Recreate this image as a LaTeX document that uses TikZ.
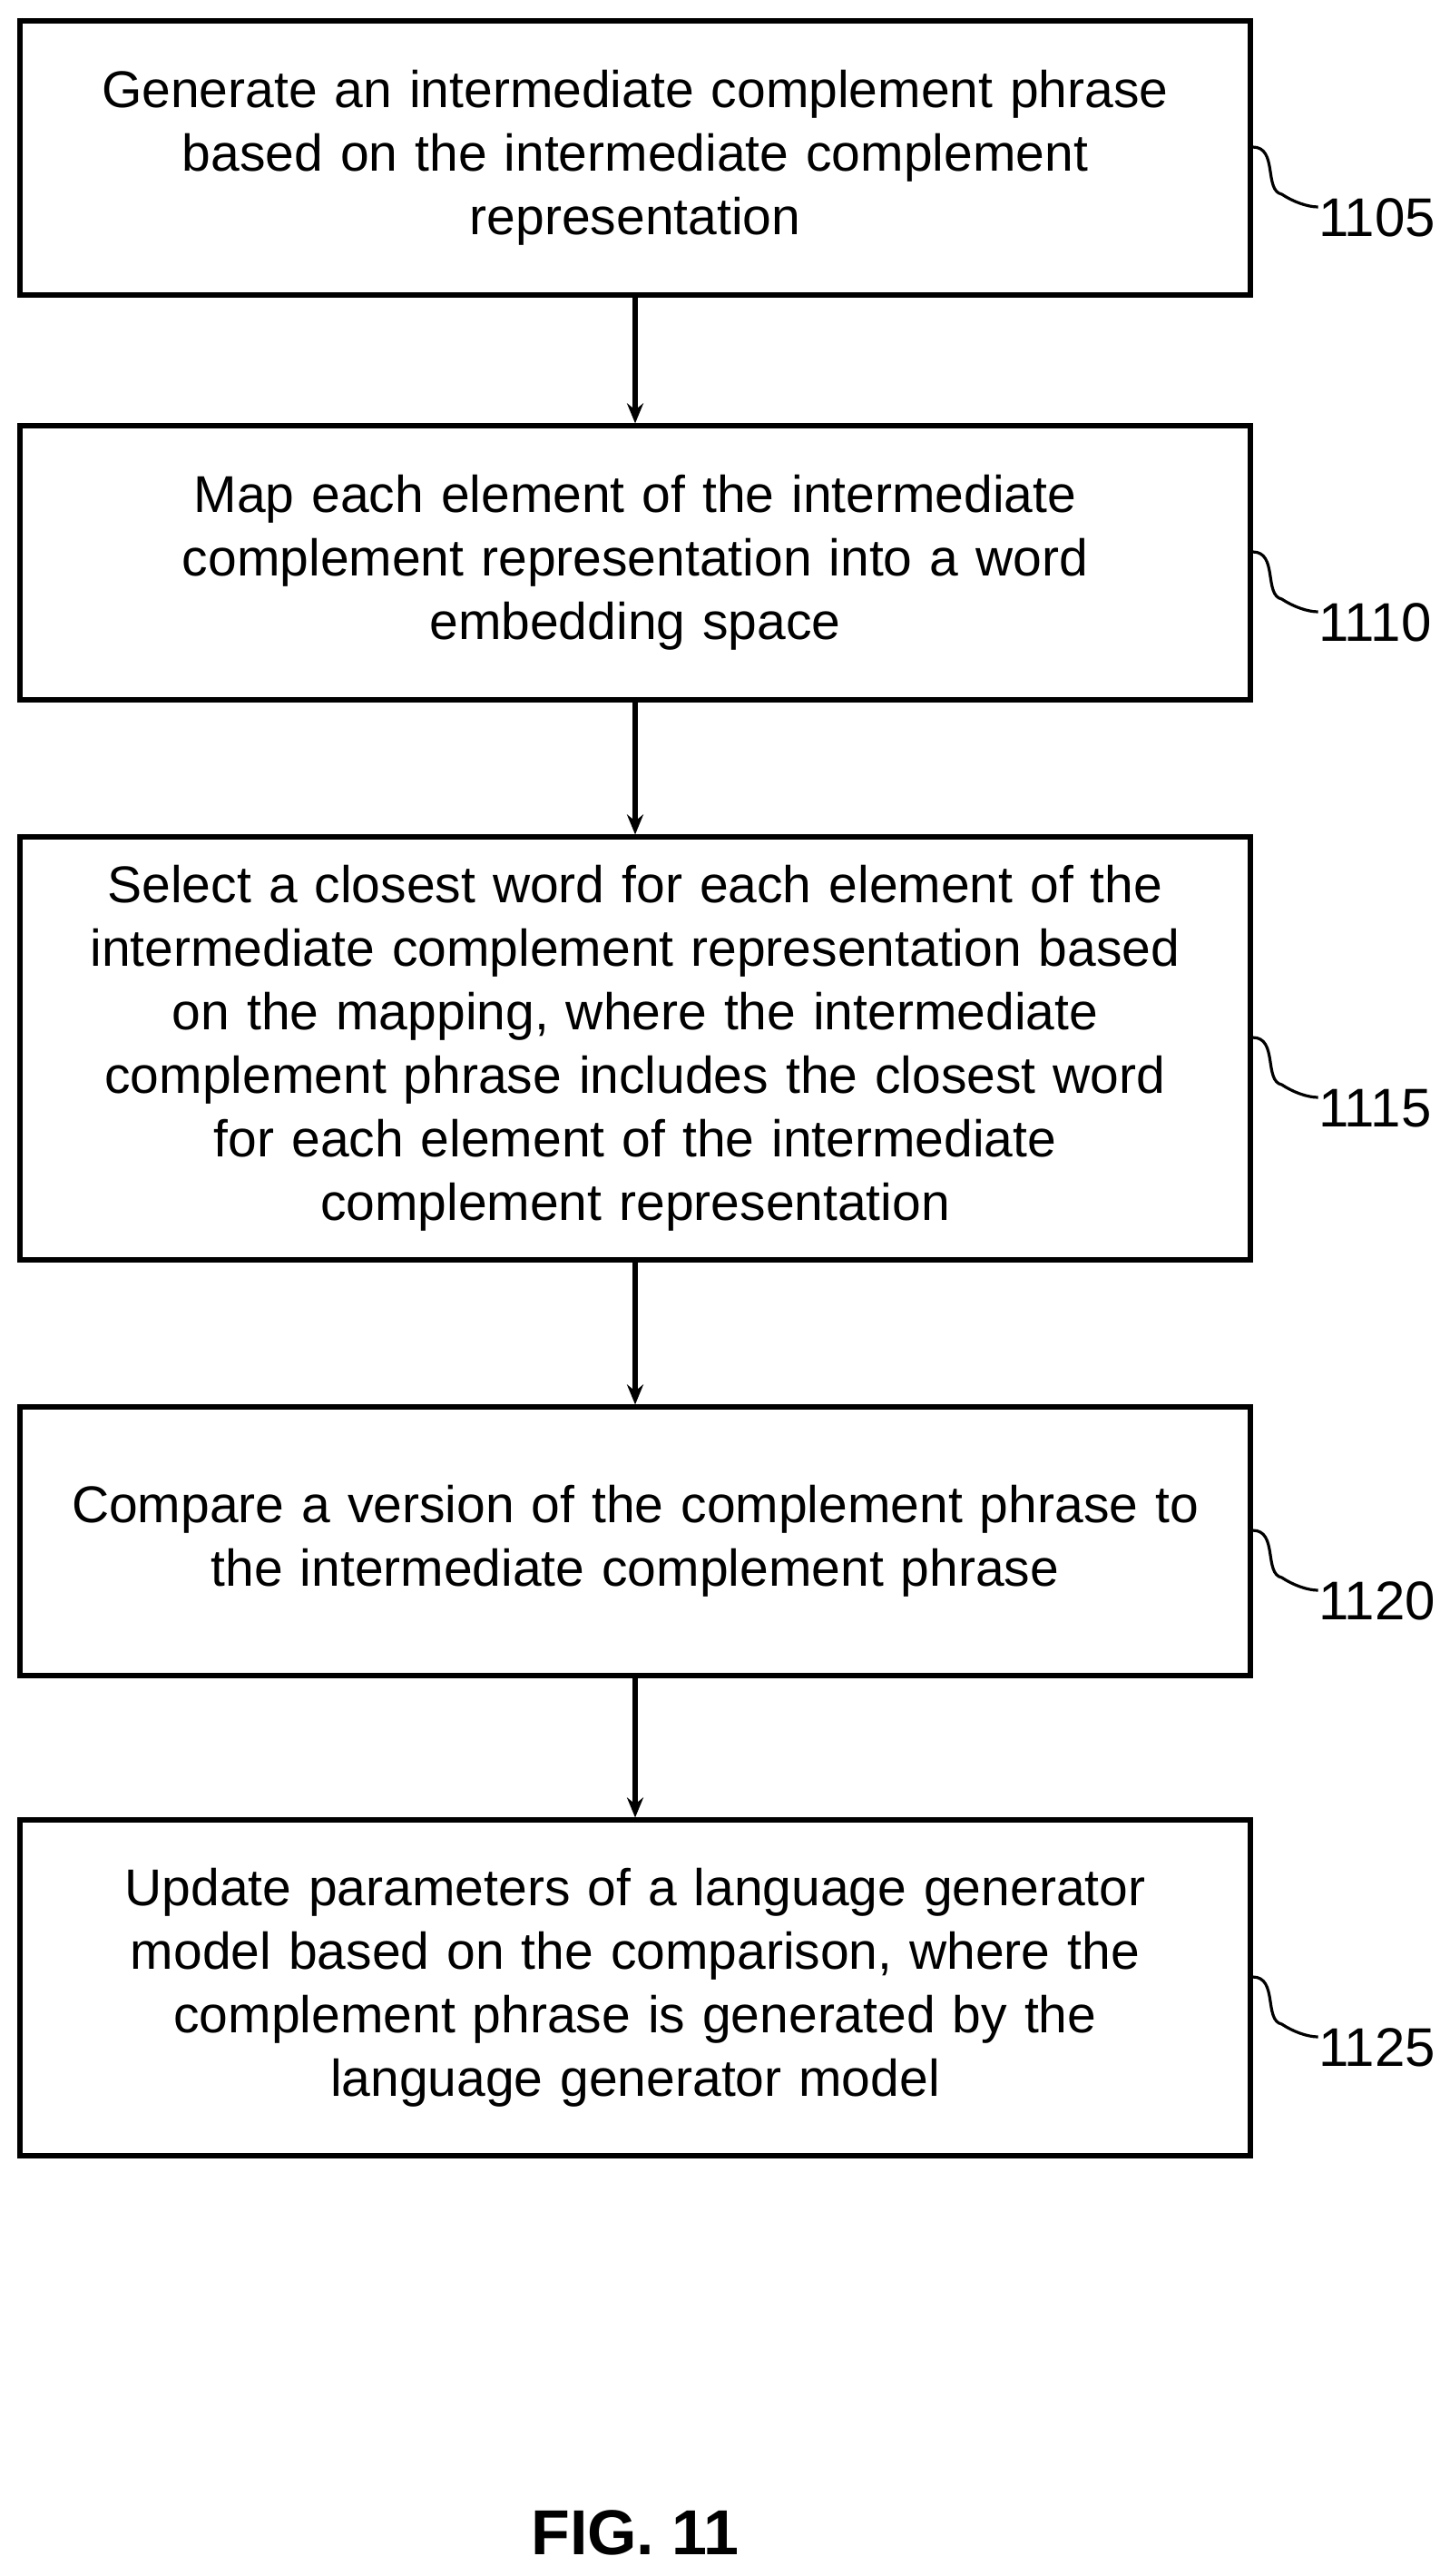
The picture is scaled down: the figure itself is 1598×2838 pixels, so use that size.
\documentclass[tikz,border=0pt]{standalone}
\usepackage{fontspec}
\setmainfont{Liberation Sans}
\usetikzlibrary{arrows.meta}
\begin{document}
\begin{tikzpicture}[x=0.5pt,y=-0.5pt,
  box/.style={draw,line width=2.6pt,minimum width=678pt,align=center,text width=660pt,
    font=\fontsize{28.5pt}{35pt}\selectfont,inner sep=0pt},
  arr/.style={line width=2.6pt,-{Stealth[length=11pt,width=9pt]}},
  lead/.style={line width=1.6pt},
  lab/.style={font=\fontsize{30pt}{34pt}\selectfont,anchor=west,inner sep=0pt}]
\useasboundingbox (0,0) rectangle (1598,2838);
\node[box,minimum height=151pt] (b1) at (700,174) {Generate an intermediate complement phrase\\based on the intermediate complement\\representation};
\node[box,minimum height=151pt] (b2) at (700,620) {Map each element of the intermediate\\complement representation into a word\\embedding space};
\node[box,minimum height=233pt] (b3) at (700,1155) {Select a closest word for each element of the\\intermediate complement representation based\\on the mapping, where the intermediate\\complement phrase includes the closest word\\for each element of the intermediate\\complement representation};
\node[box,minimum height=148pt] (b4) at (700,1698) {Compare a version of the complement phrase to\\the intermediate complement phrase};
\node[box,minimum height=185pt] (b5) at (700,2190) {Update parameters of a language generator\\model based on the comparison, where the\\complement phrase is generated by the\\language generator model};
\draw[arr] (b1) -- (b2);
\draw[arr] (b2) -- (b3);
\draw[arr] (b3) -- (b4);
\draw[arr] (b4) -- (b5);
\foreach \b/\t in {b1/1105,b2/1110,b3/1115,b4/1120,b5/1125}{
  \coordinate (s\b) at ([yshift=6pt]\b.east);
  \coordinate (e\b) at ([xshift=36pt,yshift=-27pt]\b.east);
  \draw[lead] (s\b) .. controls ([xshift=14pt]s\b) and ([xshift=6pt,yshift=-24pt]s\b) .. ([xshift=16pt,yshift=-26pt]s\b) .. controls ([xshift=22pt,yshift=-30pt]s\b) and ([xshift=-6pt]e\b) .. (e\b);
  \node[lab] (l\b) at ([yshift=-6pt]e\b) {\t};
}
\node[font=\bfseries\fontsize{35pt}{40pt}\selectfont] (fig) at (700,2790) {FIG. 11};
\end{tikzpicture}
\end{document}
